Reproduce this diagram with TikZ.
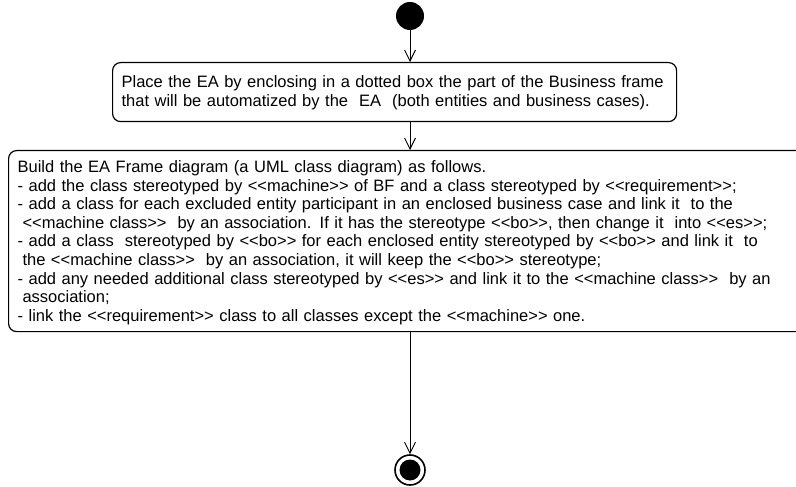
\documentclass[tikz,border=0pt]{standalone}
\usepackage{fontspec}
\setmainfont{Liberation Sans}
\usetikzlibrary{arrows.meta, positioning}

% stereotype in guillemet-free form
\newcommand{\ster}[1]{<\kern0pt<#1>\kern0pt>}

\begin{document}
\begin{tikzpicture}[x=1bp, y=-1bp,
  font=\fontsize{16.5bp}{18.6bp}\selectfont,
  activity/.style={draw, line width=1.2bp, rounded corners=8bp, align=left,
    inner xsep=9bp, text height=14bp, anchor=north west},
  flow/.style={-{Straight Barb[length=11bp, width=11bp]}, line width=0.9bp}]
\clip (0,0) rectangle (796,487);

% initial and final nodes
\node[circle, fill=black, inner sep=0pt, minimum size=28bp] (start) at (410,16) {};
\node[circle, draw, line width=1.6bp, inner sep=0pt, minimum size=30bp] (stop) at (410,470) {};
\fill (stop.center) circle (10.5bp);

% actions
\node[activity, inner ysep=11bp, text width=546bp, text depth=23bp] (place) at (112,62)
  {Place the EA by enclosing in a dotted box the part of the Business frame\\
   that will be automatized by the \ EA \ (both entities and business cases).};

\node[activity, inner ysep=8bp, text width=790bp, text depth=151bp] (build) at (8,150)
  {Build the EA Frame diagram (a UML class diagram) as follows.\\
   - add the class stereotyped by \ster{machine} of BF and a class stereotyped by \ster{requirement};\\
   - add a class for each excluded entity participant in an enclosed business case and link it \ to the\\
   \hspace*{0.3em}\ster{machine class} \ by an association. If it has the stereotype \ster{bo}, then change it \ into \ster{es};\\
   - add a class \ stereotyped by \ster{bo} for each enclosed entity stereotyped by \ster{bo} and link it \ to\\
   \hspace*{0.3em}the \ster{machine class} \ by an association, it will keep the \ster{bo} stereotype;\\
   - add any needed additional class stereotyped by \ster{es} and link it to the \ster{machine class} \ by an\\
   \hspace*{0.3em}association;\\
   - link the \ster{requirement} class to all classes except the \ster{machine} one.};

% control flow
\draw[flow] (start) -- (start |- place.north);
\draw[flow] (start |- place.south) -- (start |- build.north);
\draw[flow] (start |- build.south) -- (stop);
\end{tikzpicture}
\end{document}
